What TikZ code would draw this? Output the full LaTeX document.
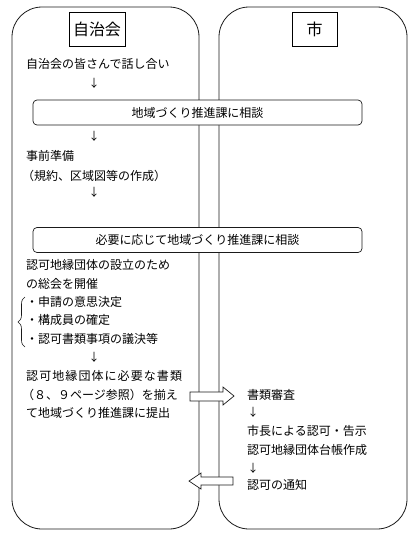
\documentclass[tikz,border=0pt]{standalone}
\usepackage{fontspec}
\setmainfont{Noto Sans CJK JP}
\usetikzlibrary{decorations.pathreplacing}
\usepackage{xcolor}
\definecolor{Ink}{HTML}{1A1A1A}

\begin{document}
\begin{tikzpicture}[x=1pt,y=-1pt,
      every node/.style={font=\fontsize{12}{14}\selectfont,inner sep=0pt},
      column/.style={draw=Ink,line width=0.8pt,rounded corners=30pt},
      titlebox/.style={draw=black,line width=1pt,minimum height=34pt,
                       font=\fontsize{16}{18}\selectfont},
      consult/.style={draw=Ink,fill=white,line width=0.7pt,rounded corners=4pt,
                      minimum width=329pt,minimum height=25pt},
      line/.style={anchor=west},
      down/.style={font=\fontsize{11}{12}\selectfont},
      blockarrow/.style={draw=Ink,fill=white,line width=0.7pt}
    ]
      \useasboundingbox (0,0) rectangle (416,539);

      \draw[column] (12,7) rectangle (199,529);
      \draw[column] (219,7) rectangle (407,529);

      \node[titlebox,minimum width=56pt] (jichikai) at (97,29) {自治会};
      \node[titlebox,minimum width=45pt] (city) at (314.5,29) {市};

      \node[line] (talk) at (26,64) {自治会の皆さんで話し合い};
      \node[consult] (consult1) at (197.5,112.5) {地域づくり推進課に相談};
      \node[line] (prep) at (26,156) {事前準備};
      \node[line] (prepnote) at (22,176) {（規約、区域図等の作成）};
      \node[consult] (consult2) at (197.5,240) {必要に応じて地域づくり推進課に相談};

      \node[line] (meet1) at (26,265) {認可地縁団体の設立のため};
      \node[line] (meet2) at (26,284) {の総会を開催};
      \node[line] (item1) at (26,302) {・申請の意思決定};
      \node[line] (item2) at (26,320) {・構成員の確定};
      \node[line] (item3) at (26,339) {・認可書類事項の議決等};

      \node[line] (submit1) at (26,376)
        {\addfontfeatures{LetterSpace=9}認可地縁団体に必要な書類};
      \node[line] (submit2) at (22,395) {（８、９ページ参照）を揃え};
      \node[line] (submit3) at (26,413) {て地域づくり推進課に提出};

      \node[line] (review) at (247,395) {書類審査};
      \node[line] (approve) at (247,431) {市長による認可・告示};
      \node[line] (ledger) at (247,450) {認可地縁団体台帳作成};
      \node[line] (notice) at (247,485) {認可の通知};

      \foreach \xpos/\ypos in {94/83,94/136,94/192,94/357,253/412,253/468}
        \node[down] (down\xpos-\ypos) at (\xpos,\ypos) {↓};

      \draw[decorate,decoration={brace,amplitude=7pt},line width=0.6pt,Ink]
        (25,347) -- (25,297);

      \draw[blockarrow] (190,392) -- (223,392) -- (223,387) -- (234,396)
        -- (223,405) -- (223,401) -- (190,401) -- cycle;
      \draw[blockarrow] (233,477) -- (201,477) -- (201,473) -- (189,481)
        -- (201,489) -- (201,485) -- (233,485) -- cycle;
    \end{tikzpicture}
\end{document}
